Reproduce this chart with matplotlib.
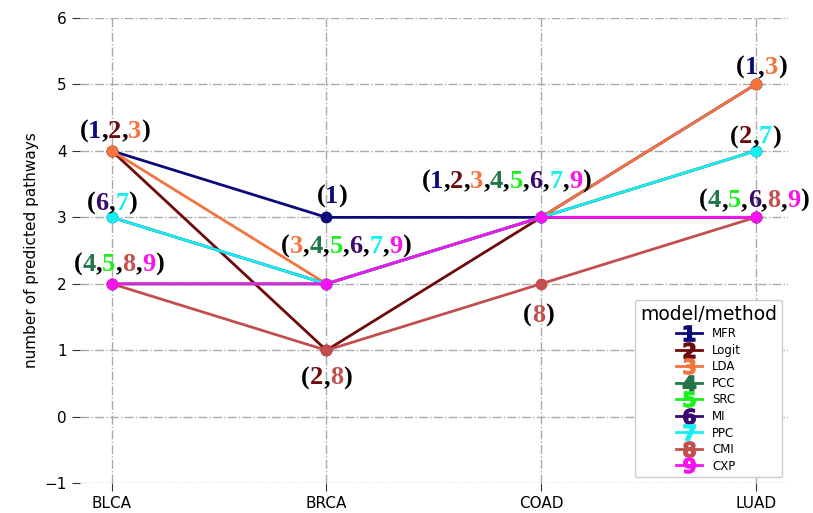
import matplotlib
matplotlib.use("Agg")
import matplotlib.pyplot as plt
from matplotlib.offsetbox import TextArea, HPacker, AnnotationBbox

# --------------------------------------------------------------------------------
# Data
# --------------------------------------------------------------------------------
cancers = ["BLCA", "BRCA", "COAD", "LUAD"]
methods = ["MFR", "Logit", "LDA", "PCC", "SRC", "MI", "PPC", "CMI", "CXP"]

mfr = [4, 3, 3, 5]
logit = [4, 1, 3, 4]
lda = [4, 2, 3, 5]
pcc = [2, 2, 3, 3]
src = [2, 2, 3, 3]
mi = [3, 2, 3, 3]
ppc = [3, 2, 3, 4]
cmi = [2, 1, 2, 3]
cxp = [2, 2, 3, 3]

series = [mfr, logit, lda, pcc, src, mi, ppc, cmi, cxp]

colors = ["#0a0a78", "#6e0a0a", "#f4743f", "#23744a", "#1cf01c",
          "#3a0a6e", "#14f0f0", "#c24e4e", "#f514f0"]

# label offsets (points) per (category index, value)
offsets = {
    (0, 4): (2, 14), (0, 3): (0, 10), (0, 2): (5, 14),
    (1, 3): (4, 15), (1, 2): (14, 27), (1, 1): (0, -20),
    (2, 3): (-25, 26), (2, 2): (-2, -23),
    (3, 5): (4, 12), (3, 4): (0, 10), (3, 3): (-1, 12),
}

# --------------------------------------------------------------------------------
# Plot
# --------------------------------------------------------------------------------
fig = plt.figure(figsize=(8.13, 5.13), dpi=100)
ax = fig.add_axes([0.098, 0.058, 0.871, 0.907])

x = list(range(len(cancers)))
for vals, name, c, num in zip(series, methods, colors, range(1, 10)):
    ax.plot(x, vals, color=c, lw=2, marker="o", ms=7.5, zorder=3)
    # legend proxy with digit marker
    ax.plot([], [], color=c, lw=2, marker=r"$\mathbf{%d}$" % num, ms=11, label=name)

# grouped multicolour labels
for i in x:
    groups = {}
    for k, vals in enumerate(series):
        groups.setdefault(vals[i], []).append(k)
    for v, members in groups.items():
        parts = [TextArea("(", textprops=dict(color="black"))]
        for j, k in enumerate(members):
            if j > 0:
                parts.append(TextArea(",", textprops=dict(color="black")))
            parts.append(TextArea(str(k + 1), textprops=dict(color=colors[k])))
        parts.append(TextArea(")", textprops=dict(color="black")))
        for p in parts:
            p._text.set_fontfamily("Liberation Serif")
            p._text.set_fontweight("bold")
            p._text.set_fontsize(19)
        box = HPacker(children=parts, pad=0, sep=0, align="baseline")
        dx, dy = offsets.get((i, v), (0, 14))
        ab = AnnotationBbox(box, (i, v), xybox=(dx, dy), boxcoords="offset points",
                            frameon=False, box_alignment=(0.5, 0.5), zorder=5)
        ax.add_artist(ab)

ax.set_xlim(-0.15, 3.15)
ax.set_ylim(-1, 6)
ax.set_xticks(x)
ax.set_xticklabels(cancers)
ax.set_yticks(range(-1, 7))
ax.tick_params(labelsize=11, length=6, color="#333333")
ax.set_ylabel("number of predicted pathways", fontsize=11)
ax.grid(True, color="#aaaaaa", linestyle="-.", linewidth=1)
ax.set_axisbelow(True)
for s in ax.spines.values():
    s.set_visible(False)

leg = ax.legend(title="model/method", loc="lower right", fontsize=8.5,
                title_fontsize=13.5, handlelength=2.2, labelspacing=0.3,
                framealpha=1)

fig.savefig("out.png", dpi=100)
